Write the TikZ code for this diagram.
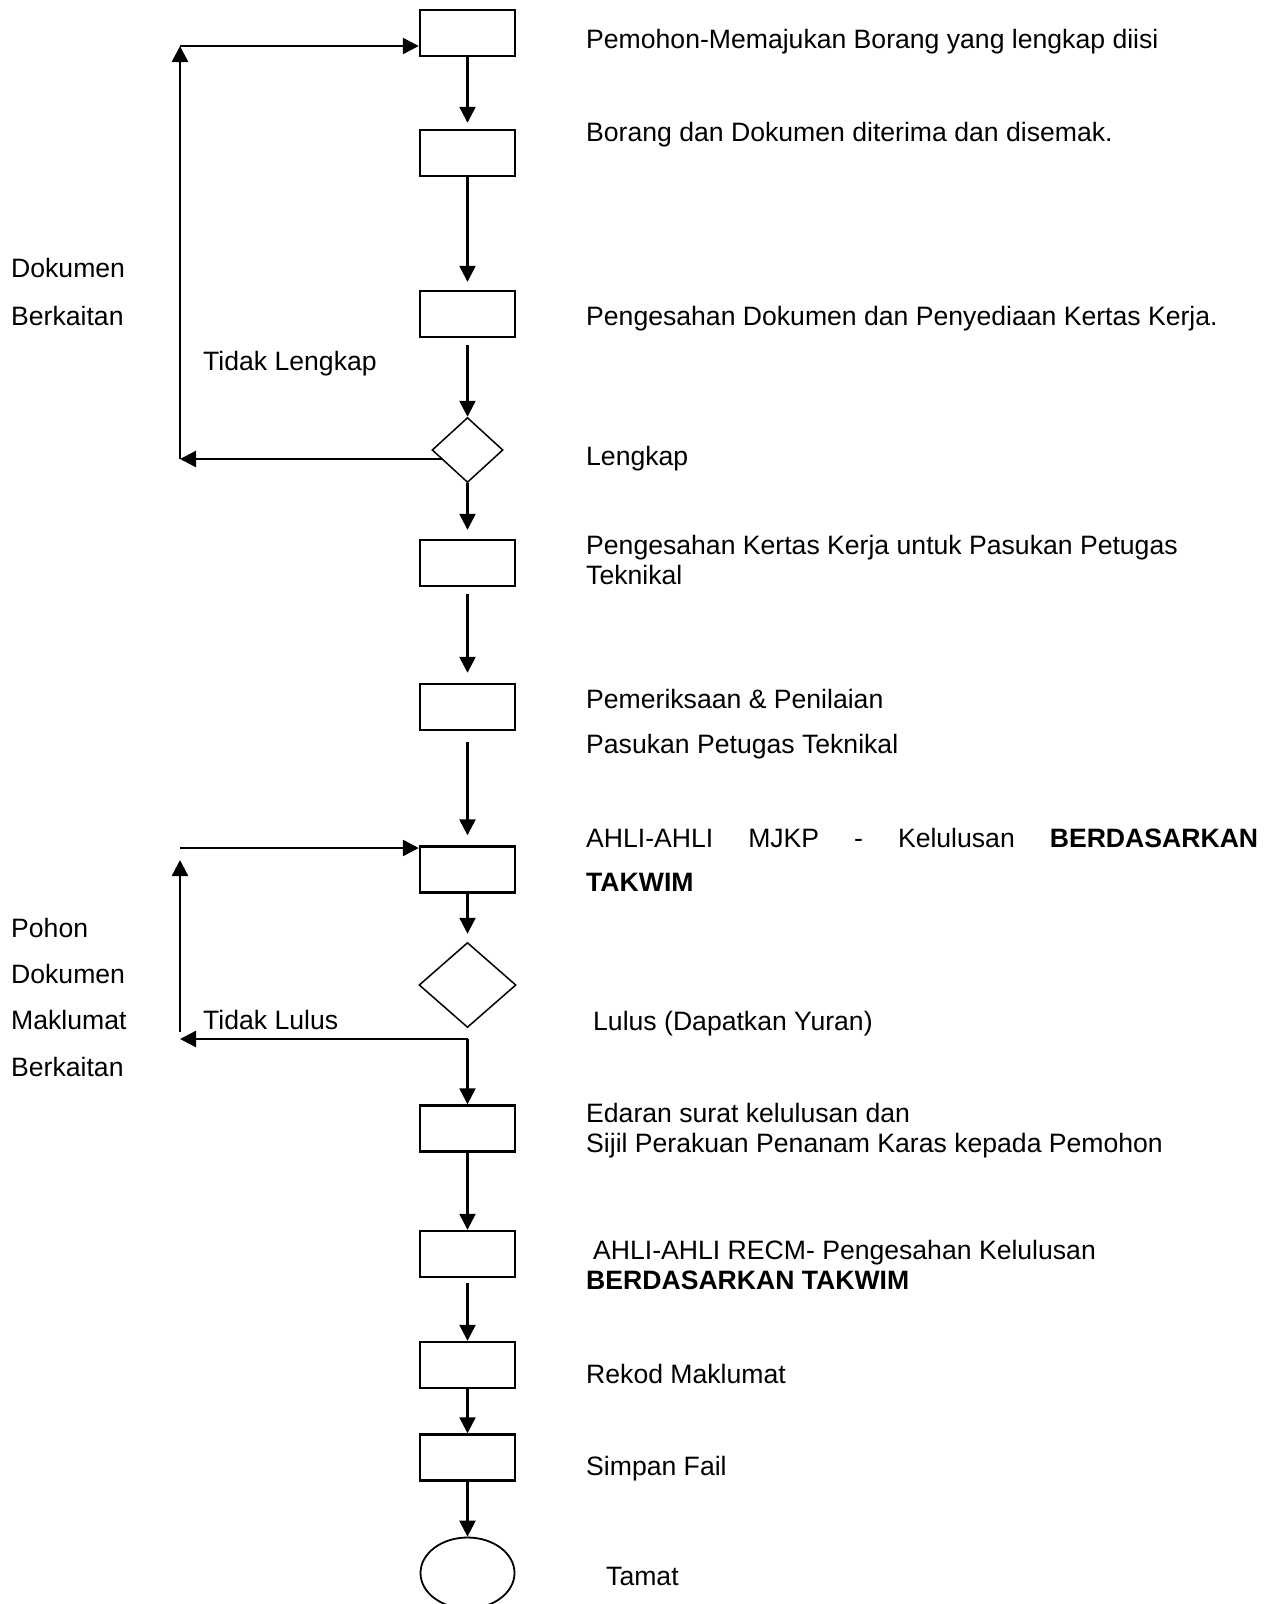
\documentclass[tikz,border=0pt]{standalone}
\usepackage{fontspec}
\setmainfont{Liberation Sans}
\usetikzlibrary{arrows.meta,shapes.geometric}
\tikzset{box/.style={draw=black,line width=2.4pt,minimum width=95pt,minimum height=46pt,inner sep=0pt},dec/.style={diamond,draw=black,line width=1.5pt,inner sep=0pt},endnode/.style={ellipse,draw=black,line width=1.8pt,minimum width=94pt,minimum height=71pt,inner sep=0pt},arr/.style={-{Triangle[length=16pt,width=16pt]},line width=2.4pt},lab/.style={anchor=base west,inner sep=0pt,font=\fontsize{26.6}{30}\selectfont}}

\begin{document}
\begin{tikzpicture}[x=1pt,y=1pt]
\useasboundingbox (0,0) rectangle (1273,-1604);
\node[box] (b1) at (467.5,-33) {};
\node[box] (b2) at (467.5,-153) {};
\node[box] (b3) at (467.5,-314) {};
\node[dec,minimum width=71pt,minimum height=65pt] (d1) at (467.5,-450) {};
\node[box] (b4) at (467.5,-563) {};
\node[box] (b5) at (467.5,-707) {};
\node[box] (b6) at (467.5,-869.5) {};
\node[dec,minimum width=97pt,minimum height=85pt] (d2) at (467.5,-985) {};
\node[box] (b7) at (467.5,-1128.5) {};
\node[box] (b8) at (467.5,-1254) {};
\node[box] (b9) at (467.5,-1365) {};
\node[box] (b10) at (467.5,-1457.5) {};
\node[endnode] (e) at (467.5,-1573) {};
\draw[arr,shorten >=6pt] (b1) -- (b2);
\draw[arr,shorten >=8pt] (b2) -- (b3);
\draw[arr,shorten <=7pt] (b3) -- (d1);
\draw[arr,shorten >=9pt] (d1) -- (b4);
\draw[arr,shorten <=7pt,shorten >=10pt] (b4) -- (b5);
\draw[arr,shorten <=11pt,shorten >=10pt] (b5) -- (b6);
\draw[arr,shorten >=8pt] (b6) -- (d2);
\coordinate (d1out) at (443,-459);
\coordinate (l1bot) at (180,-459);
\coordinate (l1top) at (180,-46);
\draw[arr] (d1out) -- (l1bot);
\draw[arr] (l1bot) -- (l1top);
\draw[arr] (l1top) -- (l1top -| b1.west);
\coordinate (j2) at (467.5,-1039);
\coordinate (l2bot) at (180,-1039);
\coordinate (l2low) at (180,-1032);
\coordinate (l2up) at (180,-860);
\coordinate (l2top) at (180,-848);
\draw[arr] (j2) -- (l2bot);
\draw[arr] (j2) -- (b7);
\draw[arr] (l2low) -- (l2up);
\draw[arr] (l2top) -- (l2top -| b6.west);
\draw[arr] (b7) -- (b8);
\draw[arr,shorten <=5pt] (b8) -- (b9);
\draw[arr] (b9) -- (b10);
\draw[arr] (b10) -- (e);
\node[lab] (t1) at (586,-48) {Pemohon-Memajukan Borang yang lengkap diisi};
\node[lab] (t2) at (586,-141) {Borang dan Dokumen diterima dan disemak.};
\node[lab] (t3) at (586,-325) {Pengesahan Dokumen dan Penyediaan Kertas Kerja.};
\node[lab] (t4) at (586,-465) {Lengkap};
\node[lab] (t5a) at (586,-554) {Pengesahan Kertas Kerja untuk Pasukan Petugas};
\node[lab] (t5b) at (586,-584) {Teknikal};
\node[lab] (t6a) at (586,-708) {Pemeriksaan \& Penilaian};
\node[lab] (t6b) at (586,-753) {Pasukan Petugas Teknikal};
\node[lab] (t7a) at (586,-847) {\makebox[672pt][s]{AHLI-AHLI MJKP - Kelulusan \textbf{BERDASARKAN}}};
\node[lab] (t7b) at (586,-891) {\textbf{TAKWIM}};
\node[lab] (t8) at (593,-1030) {Lulus (Dapatkan Yuran)};
\node[lab] (t9a) at (586,-1122) {Edaran surat kelulusan dan};
\node[lab] (t9b) at (586,-1152) {Sijil Perakuan Penanam Karas kepada Pemohon};
\node[lab] (t10a) at (593,-1259) {AHLI-AHLI RECM- Pengesahan Kelulusan};
\node[lab] (t10b) at (586,-1289) {\textbf{BERDASARKAN TAKWIM}};
\node[lab] (t11) at (586,-1383) {Rekod Maklumat};
\node[lab] (t12) at (586,-1475) {Simpan Fail};
\node[lab] (t13) at (606,-1585) {Tamat};
\node[lab] (k1) at (11,-277) {Dokumen};
\node[lab] (k2) at (11,-325) {Berkaitan};
\node[lab] (k3) at (203,-370) {Tidak Lengkap};
\node[lab] (p1) at (11,-937) {Pohon};
\node[lab] (p2) at (11,-983) {Dokumen};
\node[lab] (p3) at (11,-1029) {Maklumat};
\node[lab] (p4) at (11,-1076) {Berkaitan};
\node[lab] (p5) at (203,-1029) {Tidak Lulus};
\end{tikzpicture}
\end{document}
